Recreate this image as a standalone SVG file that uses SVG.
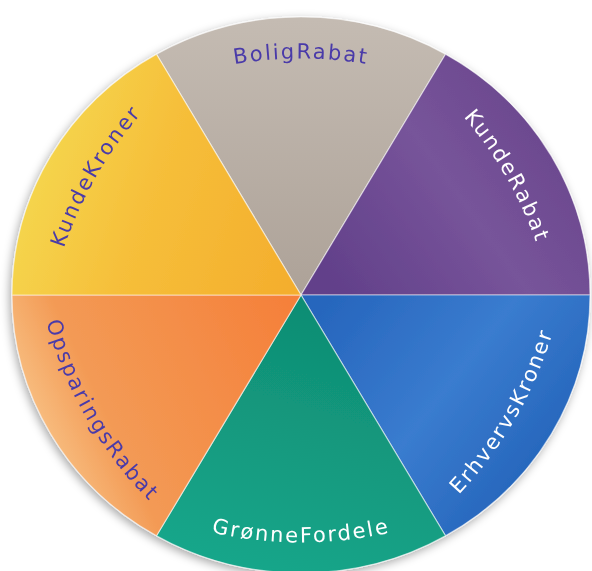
<svg xmlns="http://www.w3.org/2000/svg" width="592" height="571" viewBox="0 0 592 571">
  <defs>
    <filter id="shadow" x="-10%" y="-10%" width="120%" height="120%">
      <feDropShadow dx="-2" dy="3" stdDeviation="5" flood-color="#000" flood-opacity="0.35"/>
    </filter>
    <linearGradient id="gGray" gradientUnits="userSpaceOnUse" x1="301" y1="20" x2="301" y2="295">
      <stop offset="0" stop-color="#c4bbb2"/>
      <stop offset="1" stop-color="#ada298"/>
    </linearGradient>
    <linearGradient id="gPurple" gradientUnits="userSpaceOnUse" x1="330" y1="280" x2="580" y2="100">
      <stop offset="0" stop-color="#62408a"/>
      <stop offset="0.5" stop-color="#77549a"/>
      <stop offset="1" stop-color="#67448a"/>
    </linearGradient>
    <linearGradient id="gBlue" gradientUnits="userSpaceOnUse" x1="330" y1="300" x2="560" y2="480">
      <stop offset="0" stop-color="#2766bd"/>
      <stop offset="0.5" stop-color="#3a7ccf"/>
      <stop offset="1" stop-color="#2262b8"/>
    </linearGradient>
    <linearGradient id="gGreen" gradientUnits="userSpaceOnUse" x1="300" y1="300" x2="220" y2="560">
      <stop offset="0" stop-color="#0f8d73"/>
      <stop offset="1" stop-color="#17a68a"/>
    </linearGradient>
    <linearGradient id="gOrange" gradientUnits="userSpaceOnUse" x1="290" y1="300" x2="30" y2="420">
      <stop offset="0" stop-color="#f5803a"/>
      <stop offset="0.75" stop-color="#f39a55"/>
      <stop offset="1" stop-color="#f8c184"/>
    </linearGradient>
    <linearGradient id="gYellow" gradientUnits="userSpaceOnUse" x1="290" y1="290" x2="30" y2="200">
      <stop offset="0" stop-color="#f4ae2d"/>
      <stop offset="0.6" stop-color="#f6bf3a"/>
      <stop offset="1" stop-color="#f5d44c"/>
    </linearGradient>
    <style>
      .wedge { stroke: #ffffff; stroke-opacity: 0.55; stroke-width: 1.2; stroke-linejoin: round; }
      .lbl { font-family: "DejaVu Sans", "Liberation Sans", sans-serif; font-size: 21px; letter-spacing: 2px; text-anchor: middle; }
      .dark { fill: #4a3aa9; }
      .light { fill: #ffffff; }
    </style>
    <path id="tBolig" d="M166.1,82.3 A394.5,394.5 0 0 1 435.9,82.3"/>
    <path id="tKundeRabat" d="M417.8,71.8 A394.5,394.5 0 0 1 552.7,305.5"/>
    <path id="tErhverv" d="M424.9,526.6 A405.5,405.5 0 0 0 563.5,286.4"/>
    <path id="tGronne" d="M162.3,518.0 A405.5,405.5 0 0 0 439.7,518.0"/>
    <path id="tOpsparing" d="M38.5,286.4 A405.5,405.5 0 0 0 177.1,526.6"/>
    <path id="tKundeKroner" d="M49.3,305.5 A394.5,394.5 0 0 1 184.2,71.8"/>
  </defs>

  <rect width="592" height="571" fill="#ffffff"/>

  <g id="wheel" filter="url(#shadow)">
    <g id="BoligRabat">
      <path class="wedge" fill="url(#gGray)" d="M301,295 L156.5,54.2 A289,278 0 0 1 445.5,54.2 Z"/>
      <text class="lbl dark"><textPath href="#tBolig" startOffset="50%">BoligRabat</textPath></text>
    </g>
    <g id="KundeRabat">
      <path class="wedge" fill="url(#gPurple)" d="M301,295 L445.5,54.2 A289,278 0 0 1 590,295 Z"/>
      <text class="lbl light"><textPath href="#tKundeRabat" startOffset="50%">KundeRabat</textPath></text>
    </g>
    <g id="ErhvervsKroner">
      <path class="wedge" fill="url(#gBlue)" d="M301,295 L590,295 A289,278 0 0 1 445.5,535.8 Z"/>
      <text class="lbl light"><textPath href="#tErhverv" startOffset="50%">ErhvervsKroner</textPath></text>
    </g>
    <g id="GronneFordele">
      <path class="wedge" fill="url(#gGreen)" d="M301,295 L445.5,535.8 A289,278 0 0 1 156.5,535.8 Z"/>
      <text class="lbl light"><textPath href="#tGronne" startOffset="50%">GrønneFordele</textPath></text>
    </g>
    <g id="OpsparingsRabat">
      <path class="wedge" fill="url(#gOrange)" d="M301,295 L156.5,535.8 A289,278 0 0 1 12,295 Z"/>
      <text class="lbl dark"><textPath href="#tOpsparing" startOffset="50%">OpsparingsRabat</textPath></text>
    </g>
    <g id="KundeKroner">
      <path class="wedge" fill="url(#gYellow)" d="M301,295 L12,295 A289,278 0 0 1 156.5,54.2 Z"/>
      <text class="lbl dark"><textPath href="#tKundeKroner" startOffset="50%">KundeKroner</textPath></text>
    </g>
  </g>
  <g id="connectors"/>
</svg>
